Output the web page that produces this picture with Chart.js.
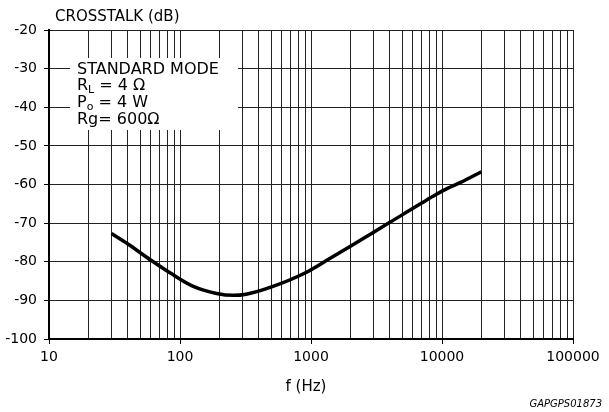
<!DOCTYPE html>
<html>
<head>
<meta charset="utf-8">
<script src="https://cdn.jsdelivr.net/npm/chart.js@4.4.1/dist/chart.umd.min.js"></script>
<style>
  html, body { margin: 0; padding: 0; background: #fff; }
  canvas { display: block; }
</style>
</head>
<body>
<canvas id="crosstalkChart" width="609" height="412"></canvas>
<script>
// values
const freqHz = [30, 40, 60, 85, 125, 190, 255, 320, 500, 900, 1400, 2000, 2800, 4000, 5000, 7000, 9000, 11000, 14000, 20000];
const crosstalkDb = [-72.7, -75.4, -79.6, -83.0, -86.3, -88.2, -88.7, -88.4, -86.5, -82.9, -79.1, -76.0, -73.0, -69.8, -67.8, -64.8, -62.6, -61.0, -59.4, -56.7];
const xTickValues = [10, 100, 1000, 10000, 100000];
const yTickValues = [-20, -30, -40, -50, -60, -70, -80, -90, -100];
const noteLines = ["STANDARD MODE", "R|L| = 4 Ω", "P|o| = 4 W", "Rg= 600Ω"];

const FONT = "'DejaVu Sans', sans-serif";

// minor grid: 1..9 of each decade
const xGridValues = [];
for (let d = 0; d < xTickValues.length - 1; d++) {
  for (let m = 1; m < 10; m++) xGridValues.push(xTickValues[d] * m);
}
xGridValues.push(xTickValues[xTickValues.length - 1]);

// draw text with "a|sub|b" subscript markup
function drawRich(ctx, str, x, y) {
  const parts = str.split("|");
  parts.forEach((p, i) => {
    if (i % 2 === 1) {
      ctx.font = "11px " + FONT;
      ctx.fillText(p, x, y + 3);
      x += ctx.measureText(p).width;
      ctx.font = "16px " + FONT;
    } else {
      ctx.fillText(p, x, y);
      x += ctx.measureText(p).width;
    }
  });
}

const textPlugin = {
  id: "texts",
  afterDraw(chart) {
    const ctx = chart.ctx;
    ctx.save();
    // note box covers the grid
    ctx.fillStyle = "#fff";
    ctx.fillRect(70, 58, 168, 72);
    ctx.fillStyle = "#000";
    ctx.textBaseline = "alphabetic";
    ctx.textAlign = "left";
    ctx.font = "16px " + FONT;
    const baselines = [74, 90, 107, 124];
    noteLines.forEach((line, i) => drawRich(ctx, line, 77, baselines[i]));

    ctx.font = "15px " + FONT;
    ctx.fillText("CROSSTALK (dB)", 55, 21);
    ctx.textAlign = "center";
    ctx.fillText("f (Hz)", 306, 391);
    ctx.textAlign = "right";
    ctx.font = "italic 10px " + FONT;
    ctx.fillText("GAPGPS01873", 602, 407);
    ctx.restore();
  }
};

new Chart(document.getElementById("crosstalkChart"), {
  type: "line",
  data: {
    datasets: [{
      data: freqHz.map((f, i) => ({ x: f, y: crosstalkDb[i] })),
      borderColor: "#000",
      borderWidth: 3.5,
      pointRadius: 0,
      tension: 0.4,
      cubicInterpolationMode: "monotone",
      fill: false
    }]
  },
  options: {
    responsive: false,
    animation: false,
    devicePixelRatio: 1,
    layout: { padding: { top: 30, right: 36, left: 0, bottom: 0 } },
    plugins: { legend: { display: false }, tooltip: { enabled: false }, title: { display: false } },
    scales: {
      x: {
        type: "logarithmic",
        min: 10,
        max: 100000,
        afterBuildTicks: (scale) => { scale.ticks = xGridValues.map(v => ({ value: v })); },
        afterFit: (scale) => { scale.height = 73; },
        ticks: {
          autoSkip: false,
          maxRotation: 0,
          padding: 5,
          color: "#000",
          font: { family: FONT, size: 14 },
          callback: (v) => xTickValues.includes(v) ? String(v) : ""
        },
        grid: {
          color: "#222",
          lineWidth: 1,
          tickLength: 5,
          tickColor: (c) => (c.tick && xTickValues.includes(c.tick.value)) ? "#000" : "rgba(0,0,0,0)"
        },
        border: { display: true, color: "#000", width: 2 }
      },
      y: {
        type: "linear",
        min: -100,
        max: -20,
        afterBuildTicks: (scale) => { scale.ticks = yTickValues.map(v => ({ value: v })); },
        afterFit: (scale) => { scale.width = 49; },
        ticks: {
          padding: 7,
          color: "#000",
          font: { family: FONT, size: 14 }
        },
        grid: { color: "#222", lineWidth: 1, tickLength: 5, tickColor: "#000" },
        border: { display: true, color: "#000", width: 2 }
      }
    }
  },
  plugins: [textPlugin]
});
</script>
</body>
</html>
